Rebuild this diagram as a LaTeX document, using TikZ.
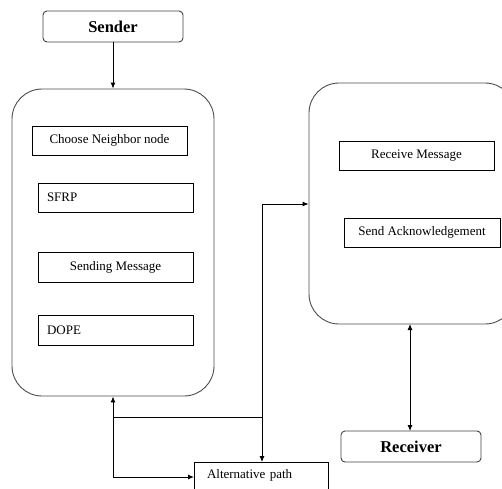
\documentclass[tikz,border=0pt]{standalone}
\usepackage{fontspec}
\setmainfont{Liberation Serif}
\usetikzlibrary{arrows.meta}
\begin{document}
\begin{tikzpicture}[x=1pt,y=-1pt,
  bigbox/.style={draw=black!70,line width=0.9pt,rounded corners=30pt,inner sep=0pt},
  endbox/.style={draw=black!75,line width=0.9pt,rounded corners=4pt,inner sep=0pt,minimum width=140pt,minimum height=31pt,font=\fontsize{16.5}{18}\selectfont\bfseries},
  stepbox/.style={draw=black,line width=0.9pt,inner sep=0pt,minimum height=29pt,font=\fontsize{13}{15}\selectfont},
  leftbox/.style={stepbox,align=left,inner xsep=9pt,text width=137pt},
  conn/.style={draw=black,line width=0.9pt},
  arr/.style={conn,-{Latex[length=6pt,width=5pt]}},
  darr/.style={conn,{Latex[length=6pt,width=5pt]}-{Latex[length=6pt,width=5pt]}}
]
\useasboundingbox (0,0) rectangle (502,488);
\clip (0,0) rectangle (502,488);
\node[endbox] (sender) at (113,26.5) {Sender};
\node[bigbox,minimum width=202pt,minimum height=307pt] (left) at (113,242.5) {};
\node[stepbox,minimum width=155pt] (choose) at (109.5,140.5) {Choose Neighbor node};
\node[leftbox] (sfrp) at (115.5,197.5) {SFRP};
\node[stepbox,minimum width=155pt,minimum height=30pt] (sending) at (115.5,267) {Sending Message};
\node[leftbox,minimum height=30pt] (dope) at (115.5,330) {DOPE};
\node[bigbox,minimum width=206pt,minimum height=241pt] (right) at (412,203.5) {};
\node[stepbox,minimum width=155pt] (recv) at (416.5,155.5) {Receive Message};
\node[stepbox,minimum width=156pt] (ack) at (422,232.5) {Send Acknowledgement};
\node[endbox] (rcv) at (411,446.5) {Receiver};
\node[draw=black,line width=0.9pt,anchor=north,inner ysep=0pt,inner xsep=13pt,text width=108pt,align=left,text height=16pt,text depth=24pt,font=\fontsize{13}{15}\selectfont] (alt) at (261,462) {Alternative path};
\coordinate (ja) at (194,477);
\coordinate (jb) at (113,417);
\coordinate (jc) at (262,417);
\coordinate (jd) at (262,204);
\draw[arr] (sender.south) -- (left.north);
\draw[darr] (left.south) |- (ja);
\draw[conn] (jb) -- (jc);
\draw[arr] (jd) -- (jd -| right.west);
\draw[arr] (jd) -- (jd |- alt.north);
\draw[darr] (410,431) -- (410,324);
\end{tikzpicture}
\end{document}
